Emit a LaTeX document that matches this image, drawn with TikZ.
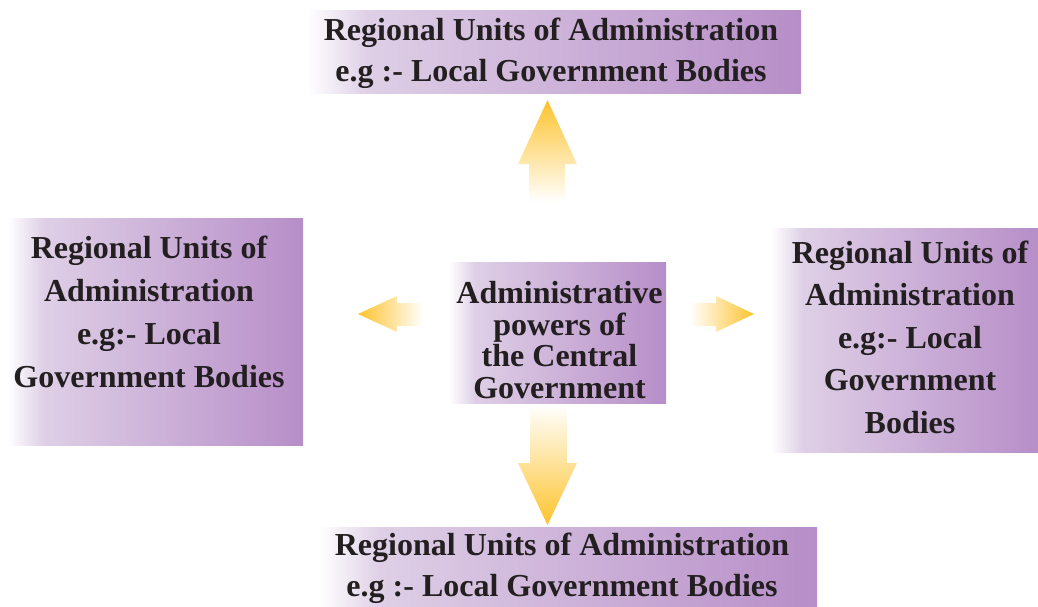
\documentclass[tikz,border=0pt]{standalone}
\usepackage{fontspec}
\setmainfont{Liberation Serif}
\usetikzlibrary{positioning,calc}
\definecolor{box-purple}{RGB}{183,142,200}
\definecolor{box-light}{RGB}{222,207,230}
\definecolor{arrow-yellow}{RGB}{253,195,45}
\definecolor{text-black}{RGB}{35,31,32}
\pgfdeclarehorizontalshading{boxfade}{100bp}{color(0bp)=(white); color(25bp)=(white); color(31bp)=(box-light); color(75bp)=(box-purple); color(100bp)=(box-purple)}

\begin{document}
\begin{tikzpicture}[x=1pt,y=-1pt]
  \tikzstyle{unitbox} = [shading=boxfade]
  \tikzstyle{unit} = [align=center, inner sep=0pt, text=text-black,
                      font=\bfseries\fontsize{32}{41}\selectfont]
  \tikzstyle{fadeup} = [top color=arrow-yellow, bottom color=white]
  \tikzstyle{fadedown} = [bottom color=arrow-yellow, top color=white]
  \tikzstyle{fadeleft} = [left color=arrow-yellow, right color=white]
  \tikzstyle{faderight} = [right color=arrow-yellow, left color=white]
  \useasboundingbox (0,0) rectangle (1038,606);
% Boxes
    \shade[unitbox] (308,10) rectangle (801,93);
    \shade[unitbox] (8,218) rectangle (303,445);
    \shade[unitbox] (449,262) rectangle (666,403);
    \shade[unitbox] (771,228) rectangle (1038,452);
    \shade[unitbox] (320,527) rectangle (817,606);
% Texts
    \node[unit] (top) at (551,53.5)
      {Regional Units of Administration\\e.g :- Local Government Bodies};
    \node[unit, font=\bfseries\fontsize{32}{43}\selectfont] (left) at (149,312)
      {Regional Units of\\Administration\\e.g:- Local\\Government Bodies};
    \node[unit, font=\bfseries\fontsize{32}{42.5}\selectfont] (right) at (910,337)
      {Regional Units of\\Administration\\e.g:- Local\\Government\\Bodies};
    \node[unit, font=\bfseries\fontsize{32}{31.7}\selectfont] (centre) at (559.5,340)
      {Administrative\\powers of\\the Central\\Government};
    \node[unit] (bottom) at (562,568)
      {Regional Units of Administration\\e.g :- Local Government Bodies};
% Block arrows from the centre
    \shade[fadeup] (547.5,100) -- (577,164) -- (565,164) -- (565,202)
      -- (529,202) -- (529,164) -- (518,164) -- cycle;
    \shade[fadedown] (530,405) -- (567,405) -- (567,463) -- (577,463)
      -- (547.5,525) -- (518,463) -- (530,463) -- cycle;
    \shade[fadeleft] (358,314) -- (397,296) -- (397,303) -- (423,303)
      -- (423,326) -- (397,326) -- (397,332) -- cycle;
    \shade[faderight] (690,303) -- (716,303) -- (716,296) -- (754,314)
      -- (716,332) -- (716,326) -- (690,326) -- cycle;
\end{tikzpicture}
\end{document}
